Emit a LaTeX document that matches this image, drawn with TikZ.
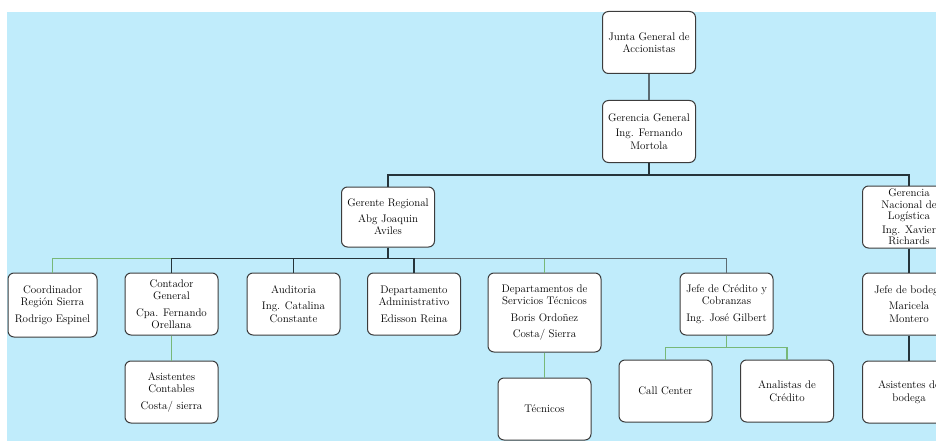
\documentclass[tikz,border=0pt]{standalone}
\usepackage{fontspec}
\usepackage{xcolor}
\definecolor{Fondo}{HTML}{C0ECFB}
\definecolor{Borde}{HTML}{3C3C3C}
\definecolor{Oscuro}{HTML}{26343A}
\definecolor{Gris}{HTML}{5C6B72}
\definecolor{Verde}{HTML}{78B878}
\usepackage{tikz}
\usetikzlibrary{positioning}
\tikzset{
  cargo/.style={draw=Borde,line width=1pt,fill=white,rounded corners=6pt,
    minimum width=93pt,minimum height=62pt,inner sep=2pt,align=center,
    font={\fontsize{11}{12.5}\selectfont}},
  linea/.style={draw=Oscuro,line width=1.1pt},
  lineagris/.style={draw=Gris,line width=1.1pt},
  lineaverde/.style={draw=Verde,line width=1.1pt}
}

\begin{document}
\begin{tikzpicture}[x=1pt,y=-1pt,node distance=25pt]
  \useasboundingbox (0,0) rectangle (936,441);
  \clip (0,0) rectangle (936,441);
  \fill[Fondo] (7,12) rectangle (936,441);
  % direccion
  \node[cargo] (junta) at (649,42.5) {Junta General de\\Accionistas};
  \node[cargo, below=26pt of junta] (gerencia) {Gerencia General\\[3pt]Ing. Fernando\\Mortola};
  \node[cargo, minimum height=60pt] (regional) at (388,217) {Gerente Regional\\[3pt]Abg Joaquin\\Aviles};
  \node[cargo, inner sep=0pt, font={\fontsize{11}{11.5}\selectfont}] (logistica) at (909,217)
    {Gerencia\\Nacional de\\Logística\\[2pt]Ing. Xavier\\Richards};
  % jefaturas
  \node[cargo, minimum width=89pt, minimum height=64pt] (coordinador) at (52.5,305) {Coordinador\\Región Sierra\\[4pt]Rodrigo Espinel};
  \node[cargo] (contador) at (171.5,304) {Contador\\General\\[4pt]Cpa. Fernando\\Orellana};
  \node[cargo] (auditoria) at (293.5,304) {Auditoria\\[4pt]Ing. Catalina\\Constante};
  \node[cargo] (administrativo) at (414,304) {Departamento\\Administrativo\\[4pt]Edisson Reina};
  \node[cargo, minimum width=113pt, minimum height=79pt] (servicios) at (544.5,312.5)
    {Departamentos de\\Servicios Técnicos\\[4pt]Boris Ordoñez\\[4pt]Costa/ Sierra};
  \node[cargo] (credito) at (726.5,304) {Jefe de Crédito y\\Cobranzas\\[4pt]Ing. José Gilbert};
  \node[cargo] (bodega) at (909,304) {Jefe de bodega\\[4pt]Maricela\\Montero};
  % personal
  \node[cargo, below=of contador] (contables) {Asistentes\\Contables\\[4pt]Costa/ sierra};
  \node[cargo, below=25pt of servicios] (tecnicos) {Técnicos};
  \node[cargo] (callcenter) at (665.5,391) {Call Center};
  \node[cargo] (analistas) at (787,391) {Analistas de\\Crédito};
  \node[cargo, below=of bodega] (asisbodega) {Asistentes de\\bodega};
  % enlaces
  \draw[lineagris] (junta) -- (gerencia);
  \draw[linea] (gerencia.south) -- ++(0,12) -| (regional.north);
  \draw[linea] (gerencia.south) -- ++(0,12) -| (logistica.north);
  \draw[lineaverde] (regional.south) -- ++(0,11) -| (coordinador.north);
  \draw[lineaverde] (regional.south) -- ++(0,11) -| (servicios.north);
  \draw[lineagris] (regional.south) -- ++(0,11) -| (credito.north);
  \draw[linea] (regional.south) -- ++(0,11) -| (contador.north);
  \draw[linea] (regional.south) -- ++(0,11) -| (auditoria.north);
  \draw[linea] (regional.south) -- ++(0,11) -| (administrativo.north);
  \draw[lineaverde] (contador) -- (contables);
  \draw[lineaverde] (servicios) -- (tecnicos);
  \draw[lineaverde] (credito.south) -- ++(0,12) -| (callcenter.north);
  \draw[lineaverde] (credito.south) -- ++(0,12) -| (analistas.north);
  \draw[linea] (logistica) -- (bodega);
  \draw[linea] (bodega) -- (asisbodega);
\end{tikzpicture}
\end{document}
